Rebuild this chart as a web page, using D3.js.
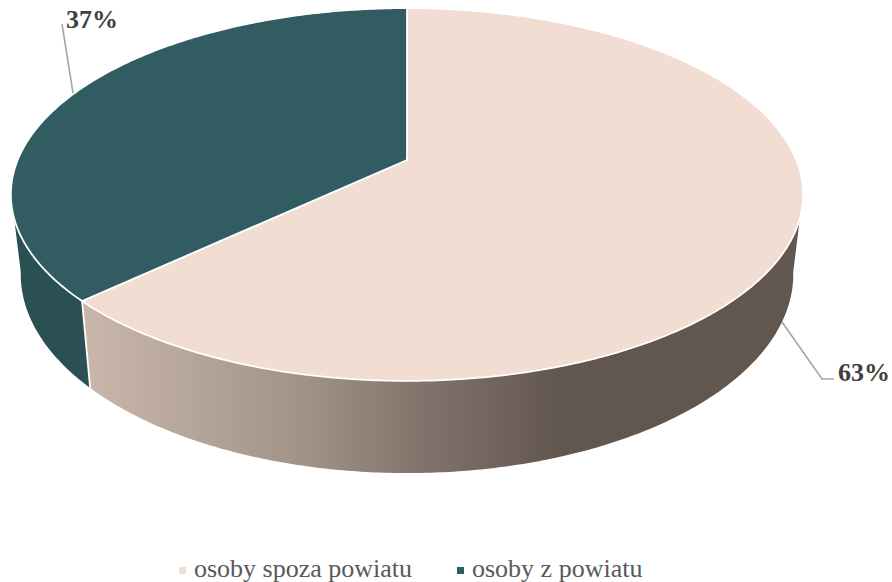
<!DOCTYPE html>
<html lang="pl">
<head>
<meta charset="utf-8">
<title>Pie</title>
<script src="https://d3js.org/d3.v7.min.js"></script>
<style>
    html, body { margin: 0; padding: 0; background: #fff; }
    svg { display: block; }
    text { font-family: "Liberation Serif", serif; }
</style>
</head>
<body>
<div id="my_dataviz"></div>
<script>
var categories = ["osoby spoza powiatu", "osoby z powiatu"];
var values = [63, 37];
var topColors = ["#f1ddd2", "#305c62"];

var width = 892, height = 582;

var svg = d3.select("#my_dataviz")
    .append("svg")
    .attr("width", width)
    .attr("height", height);

var color = d3.scaleOrdinal().domain(categories).range(topColors);

// side gradient of the pale slice
var grad = svg.append("defs").append("linearGradient")
    .attr("id", "wall")
    .attr("gradientUnits", "userSpaceOnUse")
    .attr("x1", 90).attr("x2", 560)
    .attr("y1", 0).attr("y2", 0);
grad.append("stop").attr("offset", "0%").attr("stop-color", "#c9b6aa");
grad.append("stop").attr("offset", "45%").attr("stop-color", "#a29387");
grad.append("stop").attr("offset", "72%").attr("stop-color", "#80726a");
grad.append("stop").attr("offset", "100%").attr("stop-color", "#62574f");

var pie = d3.pie().sort(null).value(function(d) { return d; });
var arcs = pie(values);

// perspective disc: circle angle -> screen point
function rim(a, b, y0) {
    var k = 0.185;
    return function(t) {
        var u = Math.sin(t), v = -Math.cos(t), w = 1 - k * v;
        return [407 + a * u / w, y0 + b * v / w];
    };
}
var topRim = rim(389.3, 180, 160);
var lowRim = rim(379.6, 192, 237.5);
var apex = [407, 160];

function sample(t0, t1) {
    var n = Math.max(2, Math.ceil(Math.abs(t1 - t0) / 0.01));
    return d3.range(n + 1).map(function(i) { return t0 + (t1 - t0) * i / n; });
}

var line = d3.line();
var visStart = 100 * Math.PI / 180, visEnd = 260 * Math.PI / 180;

// side walls
svg.append("g").selectAll("path")
    .data(arcs)
    .enter()
    .append("path")
    .attr("d", function(d) {
        var t0 = Math.max(d.startAngle, visStart), t1 = Math.min(d.endAngle, visEnd);
        var ts = sample(t0, t1);
        return line(ts.map(topRim).concat(ts.slice().reverse().map(lowRim))) + "Z";
    })
    .attr("fill", function(d, i) { return i == 0 ? "url(#wall)" : "#2b5054"; });

// line between the walls
svg.append("path")
    .attr("d", line([topRim(arcs[1].startAngle), lowRim(arcs[1].startAngle)]))
    .attr("stroke", "#fff")
    .attr("stroke-width", 1.8)
    .attr("fill", "none");

// top face
svg.append("g").selectAll("path")
    .data(arcs)
    .enter()
    .append("path")
    .attr("d", function(d) {
        return line([apex].concat(sample(d.startAngle, d.endAngle).map(topRim))) + "Z";
    })
    .attr("fill", function(d, i) { return color(categories[i]); })
    .attr("stroke", "#fff")
    .attr("stroke-width", 1.8)
    .attr("stroke-linejoin", "round");

// leader lines
svg.append("path")
    .attr("d", "M73,93L62,24")
    .attr("stroke", "#a6a6a6").attr("stroke-width", 1.6).attr("fill", "none");
svg.append("path")
    .attr("d", "M782,322L822,379L834,379")
    .attr("stroke", "#a6a6a6").attr("stroke-width", 1.6).attr("fill", "none");

// value labels
var labelX = [838, 66], labelY = [381, 28];
svg.append("g").selectAll("text")
    .data(values)
    .enter()
    .append("text")
    .attr("x", function(d, i) { return labelX[i]; })
    .attr("y", function(d, i) { return labelY[i]; })
    .attr("font-size", 26)
    .attr("font-weight", "bold")
    .attr("fill", "#404040")
    .text(function(d) { return d + "%"; });

// legend
var legendX = [179, 457];
var legend = svg.append("g").selectAll("g")
    .data(categories)
    .enter()
    .append("g")
    .attr("transform", function(d, i) { return "translate(" + legendX[i] + ",0)"; });
legend.append("rect")
    .attr("x", 0).attr("y", 567)
    .attr("width", 7).attr("height", 7)
    .attr("fill", function(d) { return color(d); });
legend.append("text")
    .attr("x", 15).attr("y", 577)
    .attr("font-size", 26)
    .attr("fill", "#595959")
    .text(function(d) { return d; });
</script>
</body>
</html>
